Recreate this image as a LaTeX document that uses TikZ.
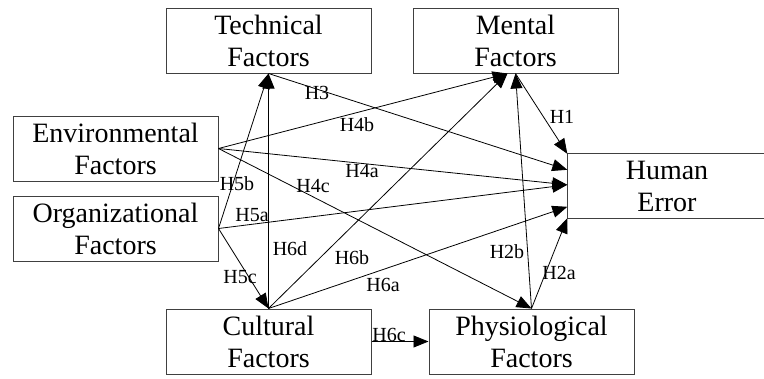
\documentclass[tikz,border=0pt]{standalone}
\usepackage{fontspec}
\setmainfont{Liberation Serif}
\usetikzlibrary{arrows.meta,calc}
\begin{document}
\begin{tikzpicture}[x=1pt,y=-1pt,
  factor/.style={draw=black!75,line width=1pt,minimum width=205pt,minimum height=65pt,
    inner sep=0pt,align=center,font=\fontsize{28}{32}\selectfont},
  hyp/.style={font=\fontsize{20}{20}\selectfont,inner sep=1pt},
  link/.style={draw=black,line width=0.8pt,-{Triangle[length=15pt,width=12pt]}}]
\useasboundingbox (0,0) rectangle (764,378);

% factor boxes
\node[factor] (tech) at (268.5,40.5) {Technical\\Factors};
\node[factor] (ment) at (515.5,40.5) {Mental\\Factors};
\node[factor] (env)  at (115.5,148.5) {Environmental\\Factors};
\node[factor] (org)  at (115.5,228.5) {Organizational\\Factors};
\node[factor] (cult) at (268.5,341.5) {Cultural\\Factors};
\node[factor] (phys) at (531.5,341.5) {Physiological\\Factors};

% outcome box, open towards the right edge
\node[inner sep=0pt,minimum width=199pt,minimum height=64pt,align=center,
  font=\fontsize{28}{32}\selectfont] (he) at (667,186) {Human\\Error};
\draw[draw=black!75,line width=1pt] (he.north east) -- (he.north west) -- (he.south west) -- (he.south east);

% entry points
\coordinate (heA) at ($(he.north west)+(0,16)$);
\coordinate (heB) at ($(he.north west)+(0,31)$);
\coordinate (heC) at ($(he.north west)+(0,53)$);
\coordinate (mL)  at ($(ment.south)+(-8,0)$);

% hypotheses
\draw[link] (ment.south) -- (he.north west);
\draw[link] (tech.south) -- (heA);
\draw[link] (env.east) -- (mL);
\draw[link] (env.east) -- (heB);
\draw[link] (env.east) -- (phys.north);
\draw[link] (org.east) -- (heB);
\draw[link] (org.east) -- (tech.south);
\draw[link] (org.east) -- (cult.north);
\draw[link] (cult.north) -- (tech.south);
\draw[link] (cult.north) -- (mL);
\draw[link] (cult.north) -- (heC);
\draw[link] (cult.east) -- (phys.west);
\draw[link] (phys.north) -- (ment.south);
\draw[link] (phys.north) -- (he.south west);

% hypothesis labels
\node[hyp] (lH1)  at (562,117) {H1};
\node[hyp] (lH2a) at (559,273) {H2a};
\node[hyp] (lH2b) at (507,252) {H2b};
\node[hyp] (lH3)  at (317,93)  {H3};
\node[hyp] (lH4a) at (362,171) {H4a};
\node[hyp] (lH4b) at (357,125) {H4b};
\node[hyp] (lH4c) at (313,186) {H4c};
\node[hyp] (lH5a) at (252,215) {H5a};
\node[hyp] (lH5b) at (237,184) {H5b};
\node[hyp] (lH5c) at (240,277) {H5c};
\node[hyp] (lH6a) at (383,285) {H6a};
\node[hyp] (lH6b) at (352,258) {H6b};
\node[hyp] (lH6c) at (389,335) {H6c};
\node[hyp] (lH6d) at (290,249) {H6d};
\end{tikzpicture}
\end{document}
